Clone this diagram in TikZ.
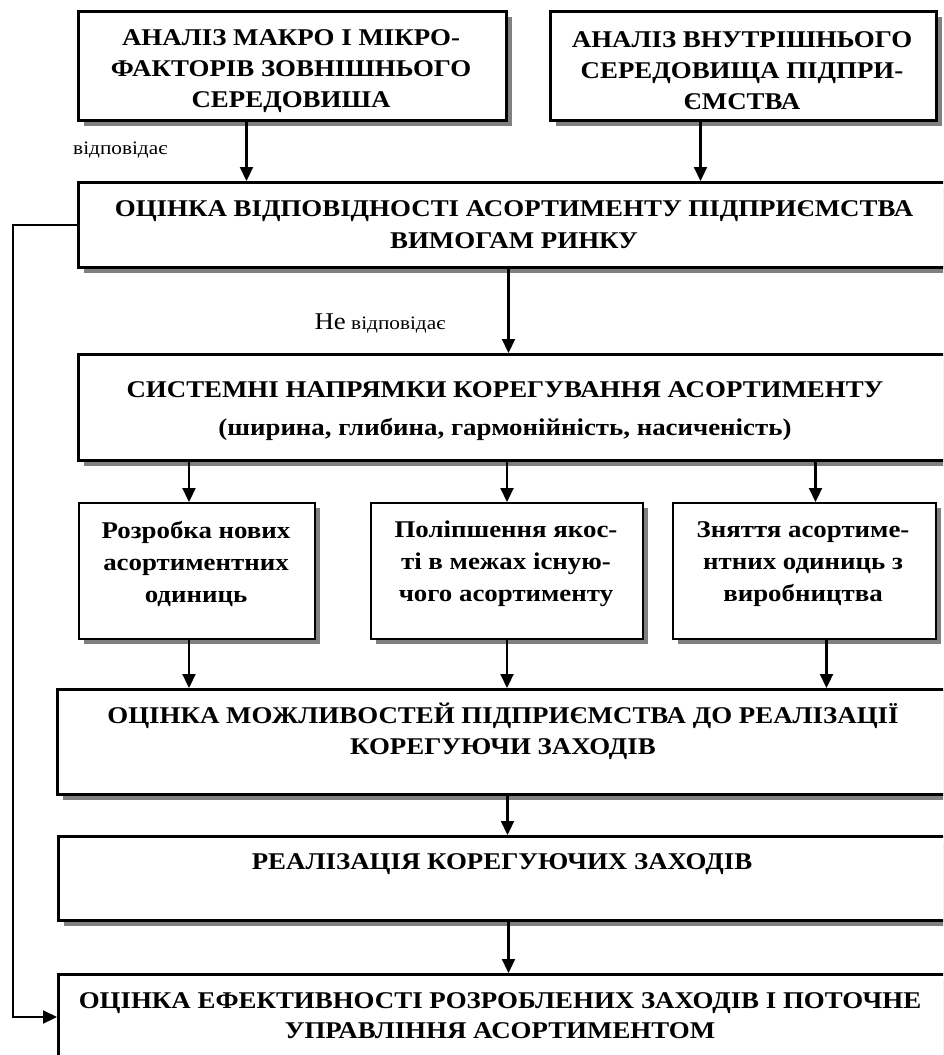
\documentclass[tikz,border=0pt]{standalone}
\usepackage{fontspec}
\setmainfont{Liberation Serif}
\newfontfamily\boxfont[FakeStretch=1.12]{Liberation Serif}
\usetikzlibrary{arrows.meta,shadows}

\begin{document}
\begin{tikzpicture}[x=1pt,y=-1pt,
    shadowed/.style={general shadow={fill=black!50,shadow xshift=5pt,shadow yshift=-5pt}},
    frame/.style={draw,line width=3pt,fill=white,shadowed,anchor=north west,inner sep=0pt},
    smallframe/.style={frame,line width=2pt},
    boxtext/.style={align=center,inner sep=0pt,font=\boxfont\bfseries\fontsize{24}{31}\selectfont},
    lbl/.style={inner sep=0pt,font=\boxfont\fontsize{19}{19}\selectfont},
    arr/.style={line width=2.2pt,-{Triangle[length=14pt,width=13pt]}}]
  \useasboundingbox (0,0) rectangle (943,1055);
  \clip (0,0) rectangle (943,1055);
  % analysis
  \node[frame,minimum width=428pt,minimum height=109pt] (makro) at (77,10) {};
  \node[boxtext] (makrotext) at (291,71)
    {АНАЛІЗ МАКРО І МІКРО-\\ФАКТОРІВ ЗОВНІШНЬОГО\\СЕРЕДОВИША};
  \node[frame,minimum width=386pt,minimum height=109pt] (vnutr) at (549,10) {};
  \node[boxtext] (vnutrtext) at (742,71)
    {АНАЛІЗ ВНУТРІШНЬОГО\\СЕРЕДОВИЩА ПІДПРИ-\\ЄМСТВА};
  % wide boxes (they run past the right edge)
  \node[frame,minimum width=900pt,minimum height=85pt] (vidp) at (77,181) {};
  \node[boxtext,font=\boxfont\bfseries\fontsize{24}{32}\selectfont] (vidptext) at (514,225)
    {ОЦІНКА ВІДПОВІДНОСТІ АСОРТИМЕНТУ ПІДПРИЄМСТВА\\ВИМОГАМ РИНКУ};
  \node[frame,minimum width=900pt,minimum height=106pt] (napr) at (77,353) {};
  \node[boxtext] (naprtext) at (505,411)
    {СИСТЕМНІ НАПРЯМКИ КОРЕГУВАННЯ АСОРТИМЕНТУ\\[7pt](ширина, глибина, гармонійність, насиченість)};
  % directions
  \node[smallframe,minimum width=236pt,minimum height=136pt] (rozrobka) at (78,502) {};
  \node[boxtext,font=\boxfont\bfseries\fontsize{24}{32}\selectfont] (rozrobkatext) at (196,564)
    {Розробка нових\\асортиментних\\одиниць};
  \node[smallframe,minimum width=272pt,minimum height=136pt] (yakist) at (370,502) {};
  \node[boxtext,font=\boxfont\bfseries\fontsize{24}{32}\selectfont] (yakisttext) at (506,564)
    {Поліпшення якос-\\ті в межах існую-\\чого асортименту};
  \node[smallframe,minimum width=263pt,minimum height=136pt] (znyattya) at (672,502) {};
  \node[boxtext,font=\boxfont\bfseries\fontsize{24}{32}\selectfont] (znyattyatext) at (803,564)
    {Зняття асортиме-\\нтних одиниць з\\виробництва};
  \node[frame,minimum width=900pt,minimum height=105pt] (mozhl) at (56,688) {};
  \node[boxtext] (mozhltext) at (503,731)
    {ОЦІНКА МОЖЛИВОСТЕЙ ПІДПРИЄМСТВА ДО РЕАЛІЗАЦІЇ\\КОРЕГУЮЧИ ЗАХОДІВ};
  \node[frame,minimum width=900pt,minimum height=84pt] (real) at (57,835) {};
  \node[boxtext] (realtext) at (502,864) {РЕАЛІЗАЦІЯ КОРЕГУЮЧИХ ЗАХОДІВ};
  \node[frame,minimum width=900pt,minimum height=117pt] (efekt) at (57,973) {};
  \node[boxtext,font=\boxfont\bfseries\fontsize{24}{30}\selectfont] (efekttext) at (500,1016)
    {ОЦІНКА ЕФЕКТИВНОСТІ РОЗРОБЛЕНИХ ЗАХОДІВ І ПОТОЧНЕ\\УПРАВЛІННЯ АСОРТИМЕНТОМ};
  % arrows
  \draw[arr] ([xshift=-46pt]makro.south) -- node[lbl,left=78pt,pos=0.47] (vidplbl) {відповідає}
    ([xshift=-46pt]makro.south |- vidp.north);
  \draw[arr] ([xshift=-43pt]vnutr.south) -- ([xshift=-43pt]vnutr.south |- vidp.north);
  \draw[arr] ([xshift=-20pt]vidp.south) -- node[lbl,left=62pt,pos=0.65] (nevidplbl)
    {{\fontsize{24}{24}\selectfont Не} відповідає} ([xshift=-20pt]vidp.south |- napr.north);
  \draw[arr] ([xshift=-8pt]rozrobka.north |- napr.south) -- ([xshift=-8pt]rozrobka.north);
  \draw[arr] (yakist.north |- napr.south) -- (yakist.north);
  \draw[arr] ([xshift=11pt]znyattya.north |- napr.south) -- ([xshift=11pt]znyattya.north);
  \draw[arr] ([xshift=-8pt]rozrobka.south) -- ([xshift=-8pt]rozrobka.south |- mozhl.north);
  \draw[arr] (yakist.south) -- (yakist.south |- mozhl.north);
  \draw[arr] ([xshift=22pt]znyattya.south) -- ([xshift=22pt]znyattya.south |- mozhl.north);
  \draw[arr] (mozhl.south) -- (mozhl.south |- real.north);
  \draw[arr] (real.south) -- (efekt.north);
  % feedback
  \draw[arr] (vidp.west) -- ++(-64,0) |- ([yshift=16pt]efekt.west);
\end{tikzpicture}
\end{document}
